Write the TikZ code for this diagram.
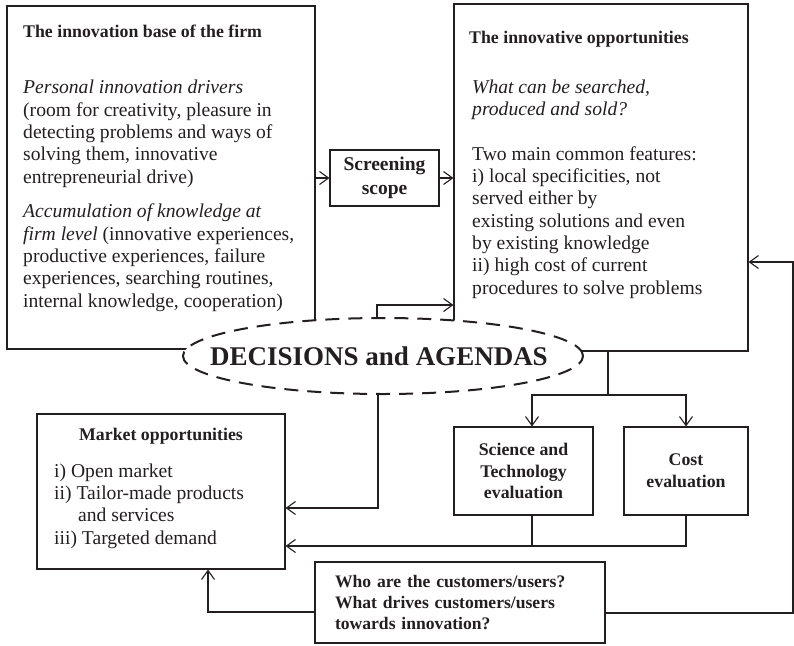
\documentclass[tikz,border=0pt]{standalone}
\usepackage{fontspec}
\setmainfont{Liberation Serif}
\usetikzlibrary{arrows.meta,shapes.geometric}
\definecolor{ink}{HTML}{231F20}
\newcommand\bodyfnt{\fontsize{19.6}{22.3}\selectfont}
\newcommand\headfnt{\fontsize{17.8}{21.7}\selectfont\bfseries}
\begin{document}
\begin{tikzpicture}[x=1pt,y=-1pt,
  box/.style={draw=ink, line width=1.1pt, rectangle, inner sep=0pt, text=ink},
  arr/.style={draw=ink, line width=1.1pt, -{Straight Barb[length=9pt,width=13pt,line width=1.1pt]}},
  conn/.style={draw=ink, line width=1.1pt},
  txt/.style={inner sep=0pt, text=ink, align=left}]
\useasboundingbox (0,0) rectangle (794,645);

% boxes
\node[box, minimum width=308pt, minimum height=343pt] (base) at (161,177.5) {};
\node[box, minimum width=294pt, minimum height=347pt] (opp) at (601,177.5) {};
\node[box, minimum width=109pt, minimum height=56pt, align=center,
      font=\fontsize{19.5}{24}\selectfont\bfseries] (screen) at (384.5,178) {Screening\\scope};
\node[box, minimum width=139pt, minimum height=88pt, align=center, font=\headfnt] (st) at (523.5,471) {Science and\\Technology\\evaluation};
\node[box, minimum width=124pt, minimum height=88pt, align=center, font=\headfnt] (cost) at (686,471) {Cost\\evaluation};
\node[box, minimum width=248pt, minimum height=155pt] (market) at (161,491.5) {};
\node[box, minimum width=290pt, minimum height=81pt, text width=250pt, inner xsep=20pt, align=left,
      font=\fontsize{17.6}{21}\selectfont\bfseries] (who) at (460,602.5)
      {Who are the customers/users?\\What drives customers/users\\towards innovation?};

% texts in the big boxes (base west = baseline of the last line)
\node[txt, anchor=base west, font=\headfnt] (baseh) at (23,37) {The innovation base of the firm};
\node[txt, anchor=base west, font=\bodyfnt] (baseb) at (23,307)
  {\textit{Personal innovation drivers}\\
   (room for creativity, pleasure in\\
   detecting problems and ways of\\
   solving them, innovative\\
   entrepreneurial drive)\\[12.5pt]
   \textit{Accumulation of knowledge at}\\
   \textit{firm level} (innovative experiences,\\
   productive experiences, failure\\
   experiences, searching routines,\\
   internal knowledge, cooperation)};
\node[txt, anchor=base west, font=\headfnt] (opph) at (469,43) {The innovative opportunities};
\node[txt, anchor=base west, font=\bodyfnt] (oppb) at (472,294)
  {\textit{What can be searched,}\\
   \textit{produced and sold?}\\[22.3pt]
   Two main common features:\\
   i) local specificities, not\\
   served either by\\
   existing solutions and even\\
   by existing knowledge\\
   ii) high cost of current\\
   procedures to solve problems};
\node[txt, anchor=base, font=\headfnt] (markh) at (161,440) {Market opportunities};
\node[txt, anchor=base west, font=\bodyfnt] (markb) at (54,544)
  {i) Open market\\
   ii) Tailor-made products\\
   \hspace*{24pt}and services\\
   iii) Targeted demand};

% ellipse
\node[ellipse, draw=ink, line width=2pt, dash pattern=on 14pt off 9pt, fill=white,
      minimum width=400pt, minimum height=76pt, inner sep=0pt] (dec) at (383,356) {};
\node[txt, font=\fontsize{27}{27}\selectfont\bfseries] (dect) at ([xshift=-4pt]dec.center) {DECISIONS and AGENDAS};

% connectors
\draw[arr] (base.east |- screen.west) -- (screen.west);
\draw[arr] (screen.east) -- (opp.west |- screen.east);
\coordinate (ja) at (377,305);
\draw[arr] (dec.north -| ja) |- (opp.west |- ja);
\coordinate (jb) at (608,395);
\coordinate (jst) at (532,395);
\draw[conn] (opp.south -| jb) -- (jb);
\draw[arr] (jb) -- (jst) -- (st.north -| jst);
\draw[arr] (jb) -| (cost.north);
\coordinate (jc) at (532,546);
\draw[conn] (st.south -| jc) -- (jc);
\draw[arr] (cost.south) |- (market.east |- jc);
\coordinate (jd) at (378,508);
\draw[arr] (dec.south -| jd) |- (market.east |- jd);
\coordinate (je) at (208,612);
\draw[arr] (who.west |- je) -| (market.south -| je);
\coordinate (jf) at (793,613);
\coordinate (jg) at (793,262);
\draw[arr] (who.east |- jf) -- (jf) -- (jg) -- (opp.east |- jg);
\end{tikzpicture}
\end{document}
